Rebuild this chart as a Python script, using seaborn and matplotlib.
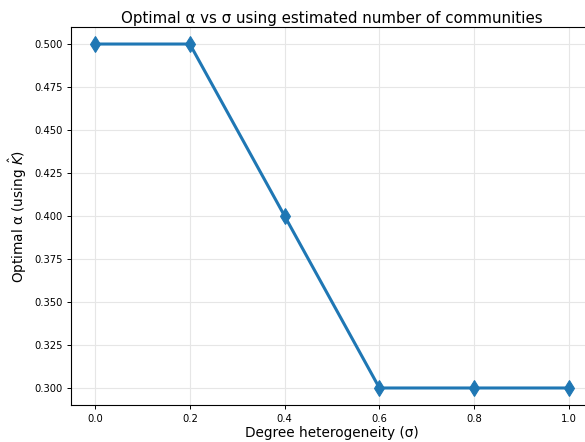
import matplotlib
matplotlib.use("Agg")
import matplotlib.pyplot as plt
import seaborn as sns
import pandas as pd

sigma = [0.0, 0.2, 0.4, 0.6, 0.8, 1.0]
optimal_alpha = [0.5, 0.5, 0.4, 0.3, 0.3, 0.3]
x_ticks = [0.0, 0.2, 0.4, 0.6, 0.8, 1.0]
y_ticks = [0.300, 0.325, 0.350, 0.375, 0.400, 0.425, 0.450, 0.475, 0.500]

df = pd.DataFrame({"sigma": sigma, "alpha": optimal_alpha})

fig = plt.figure(figsize=(5.85, 4.42), dpi=100)
ax = fig.add_axes([0.1219, 0.0833, 0.8913, 0.856])

sns.lineplot(data=df, x="sigma", y="alpha", ax=ax, marker="d", markersize=8,
             linewidth=2.2, color="#1f77b4", markeredgecolor="#1f77b4")

ax.set_xlim(-0.05, 1.05)
ax.set_ylim(0.29, 0.51)
ax.set_xticks(x_ticks)
ax.set_xticklabels([f"{v:.1f}" for v in x_ticks])
ax.set_yticks(y_ticks)
ax.set_yticklabels([f"{v:.3f}" for v in y_ticks])
ax.tick_params(labelsize=7.2, length=2.8, width=0.7, pad=3.2)
ax.grid(True, color="#e6e6e6", linewidth=0.8)
ax.set_axisbelow(True)
ax.spines["right"].set_visible(False)
for s in ("left", "bottom", "top"):
    ax.spines[s].set_linewidth(0.8)

ax.set_title("Optimal α vs σ using estimated number of communities",
             fontsize=10.8, pad=3)
ax.set_xlabel("Degree heterogeneity (σ)", fontsize=9.8, labelpad=1.5)
ax.set_ylabel(r"Optimal α (using $\hat{K}$)", fontsize=9.8, labelpad=4)

fig.savefig("out.png", dpi=100)
